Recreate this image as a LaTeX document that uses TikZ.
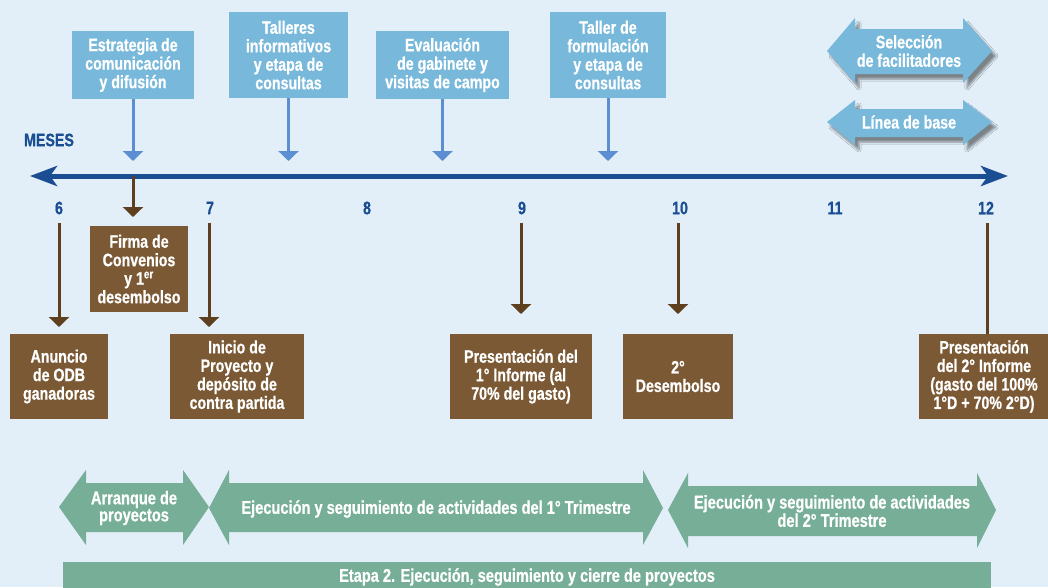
\documentclass[tikz,border=0pt]{standalone}
\usepackage{fontspec}
\setmainfont{Liberation Sans}[FakeStretch=0.79, BoldFeatures={FakeBold=0.7}]
\usetikzlibrary{arrows.meta,shadows.blur}
\definecolor{bgc}{HTML}{E2EFF8}
\definecolor{lblue}{HTML}{78B8DA}
\definecolor{ablue}{HTML}{5B8FD2}
\definecolor{navy}{HTML}{1A4D91}
\definecolor{bbrown}{HTML}{7B5934}
\definecolor{abrown}{HTML}{5E3F1E}
\definecolor{grn}{HTML}{76AE98}
\tikzset{
  txt/.style={font=\bfseries\fontsize{18}{18.5}\selectfont, text=white, align=center, inner sep=0pt},
  gtxt/.style={font=\bfseries\fontsize{18.5}{17}\selectfont, text=white, align=center, inner sep=0pt},
  topbox/.style={txt, fill=lblue},
  botbox/.style={txt, fill=bbrown},
  barrow/.style={ablue, line width=3pt, -{Triangle[width=20pt,length=10pt]}},
  brarrow/.style={abrown, line width=3pt, -{Triangle[width=20pt,length=10pt]}},
  brline/.style={abrown, line width=3pt},
  num/.style={font=\bfseries\fontsize{18}{18}\selectfont, text=navy, inner sep=0pt},
  shadowed/.style={blur shadow={shadow xshift=4pt, shadow yshift=-5pt, shadow blur steps=6, shadow opacity=45}},
}
\begin{document}
\begin{tikzpicture}[x=1pt,y=-1pt]
\useasboundingbox (0,0) rectangle (1048,587);
\fill[bgc] (0,0) rectangle (1048,587);

% top boxes
\node[topbox, minimum width=122pt, minimum height=68pt] (estr) at (133,65) {Estrategia de\\comunicación\\y difusión};
\node[topbox, minimum width=119pt, minimum height=86pt] (tall) at (288.5,55) {Talleres\\informativos\\y etapa de\\consultas};
\node[topbox, minimum width=133pt, minimum height=68pt] (eval) at (442.5,65) {Evaluación\\de gabinete y\\visitas de campo};
\node[topbox, minimum width=116pt, minimum height=86pt] (tform) at (608,55) {Taller de\\formulación\\y etapa de\\consultas};

% top right double arrows
\fill[lblue, shadowed] (827,51) -- (855,18) -- (855,29) -- (963,29) -- (963,18) -- (992,51) -- (963,83) -- (963,74) -- (855,74) -- (855,83) -- cycle;
\node[txt] (sel) at (909,51) {Selección\\de facilitadores};
\fill[lblue, shadowed] (827,122) -- (855,100) -- (855,109) -- (963,109) -- (963,100) -- (992,122) -- (963,145) -- (963,137) -- (855,137) -- (855,145) -- cycle;
\node[txt] (lin) at (909,122) {Línea de base};

% MESES and timeline
\node[num] (meses) at (49,140) {MESES};
\coordinate (tlL) at (30,176);
\coordinate (tlR) at (1008,176);
\draw[navy, line width=5pt, {Stealth[length=27pt,width=20pt,inset=7pt]}-{Stealth[length=27pt,width=20pt,inset=7pt]}] (tlL) -- (tlR);

% top connectors
\coordinate (t1) at (133,161);
\coordinate (t2) at (288.5,161);
\coordinate (t3) at (442.5,161);
\coordinate (t4) at (608,161);
\draw[barrow] (estr.south) -- (t1);
\draw[barrow] (tall.south) -- (t2);
\draw[barrow] (eval.south) -- (t3);
\draw[barrow] (tform.south) -- (t4);

% month numbers
\node[num] (m6) at (59,208) {6};
\node[num] (m7) at (210,208) {7};
\node[num] (m8) at (367,208) {8};
\node[num] (m9) at (522,208) {9};
\node[num] (m10) at (680,208) {10};
\node[num] (m11) at (835,208) {11};
\node[num] (m12) at (986,208) {12};

% bottom boxes
\node[botbox, minimum width=98pt, minimum height=86pt] (firma) at (139,269) {Firma de\\Convenios\\y 1\textsuperscript{er}\\desembolso};
\node[botbox, minimum width=98pt, minimum height=85pt] (anun) at (59,376.5) {Anuncio\\de ODB\\ganadoras};
\node[botbox, minimum width=134pt, minimum height=85pt] (inicio) at (237,376.5) {Inicio de\\Proyecto y\\depósito de\\contra partida};
\node[botbox, minimum width=142pt, minimum height=85pt] (pres1) at (521,376.5) {Presentación del\\1° Informe (al\\70\% del gasto)};
\node[botbox, minimum width=110pt, minimum height=85pt] (des2) at (678,376.5) {2°\\Desembolso};
\node[botbox, minimum width=130pt, minimum height=85pt] (pres2) at (984,376.5) {Presentación\\del 2° Informe\\(gasto del 100\%\\1°D + 70\% 2°D)};

% bottom connectors
\coordinate (f0) at (133,176);
\coordinate (f1) at (133,217);
\draw[brarrow] (f0) -- (f1);
\coordinate (a0) at (59,223);
\coordinate (a1) at (59,327);
\draw[brarrow] (a0) -- (a1);
\coordinate (i0) at (209,223);
\coordinate (i1) at (209,327);
\draw[brarrow] (i0) -- (i1);
\coordinate (p0) at (521,223);
\coordinate (p1) at (521,314);
\draw[brarrow] (p0) -- (p1);
\coordinate (d0) at (678,223);
\coordinate (d1) at (678,314);
\draw[brarrow] (d0) -- (d1);
\coordinate (q0) at (987,223);
\draw[brline] (q0) -- (q0 |- pres2.north);

% green arrows
\fill[grn] (59,507) -- (86,470) -- (86,483) -- (183,483) -- (183,470) -- (209,507) -- (183,545) -- (183,532) -- (86,532) -- (86,545) -- cycle;
\node[gtxt] (arr) at (134,508) {Arranque de\\proyectos};
\fill[grn] (209,508) -- (229,470) -- (229,483) -- (643,483) -- (643,470) -- (663,508) -- (643,545) -- (643,532) -- (229,532) -- (229,545) -- cycle;
\node[gtxt] (ej1) at (436,509) {Ejecución y seguimiento de actividades del 1° Trimestre};
\fill[grn] (668,510) -- (688,473) -- (688,486) -- (977,486) -- (977,473) -- (996,510) -- (977,548) -- (977,536) -- (688,536) -- (688,548) -- cycle;
\node[gtxt] (ej2) at (832,511) {Ejecución y seguimiento de actividades\\del 2° Trimestre};

% bottom bar
\fill[grn] (63,562) rectangle (991,590);
\node[gtxt] (etapa) at (527,577) {Etapa 2. Ejecución, seguimiento y cierre de proyectos};
\end{tikzpicture}
\end{document}
